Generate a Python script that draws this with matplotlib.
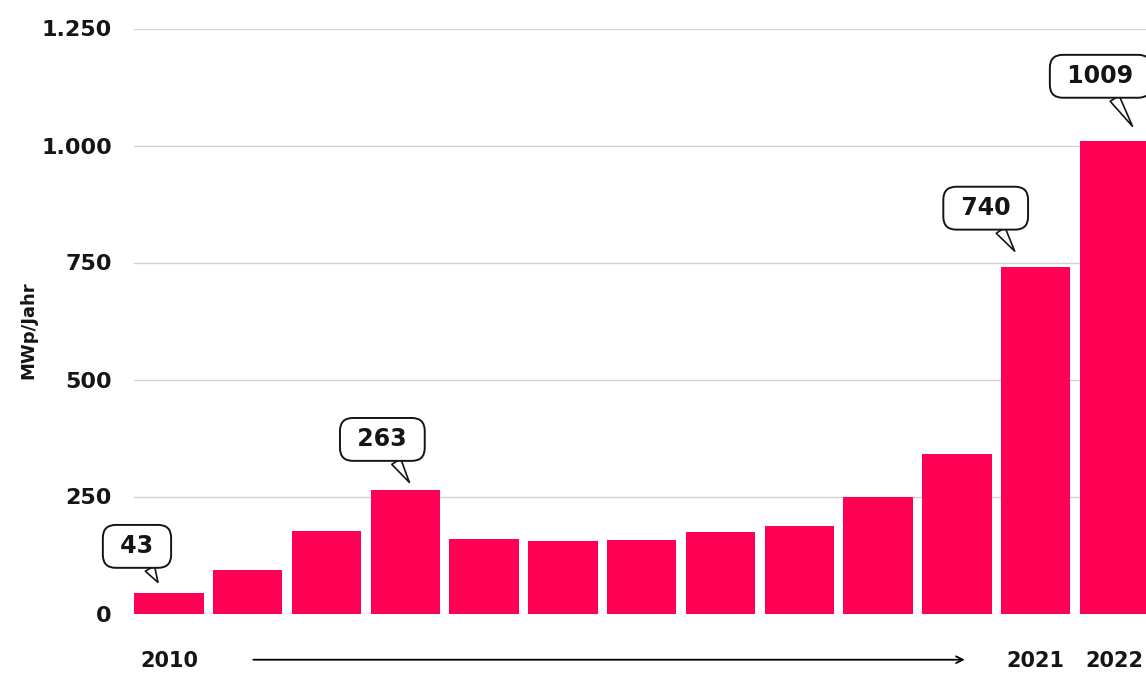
import matplotlib
matplotlib.use("Agg")
import matplotlib.pyplot as plt
import matplotlib.transforms as mtransforms

# yearly PV additions, MWp
years = list(range(2010, 2023))
mwp = [43, 93, 177, 263, 159, 154, 157, 174, 188, 249, 341, 740, 1009]

y_ticks = [0, 250, 500, 750, 1000, 1250]
y_tick_labels = ["0", "250", "500", "750", "1.000", "1.250"]

x_label_years = [2010, 2021, 2022]

# bubbles: year -> (tip offset from bar top, box offset from tip), in pixels
bubbles = {
    2010: ((-11, 11), (-21, 36)),
    2013: ((4, 8), (-27, 43)),
    2021: ((-21, 16), (-29, 43)),
    2022: ((18, 15), (-32, 50)),
}

BAR_COLOR = "#FF0055"
TEXT_COLOR = "#151515"

plt.rcParams["font.family"] = ["DejaVu Sans"]

fig = plt.figure(figsize=(11.46, 6.74), dpi=100)
ax = fig.add_axes([134 / 1146, 1 - 613.5 / 674, 1 - 134 / 1146, 585 / 674])

xs = list(range(len(years)))
ax.bar(xs, mwp, width=0.88, color=BAR_COLOR, zorder=3)

ax.set_ylim(0, 1250)
ax.set_xlim(-0.444, 12.40)
ax.set_yticks(y_ticks)
ax.set_yticklabels(y_tick_labels, fontsize=16, fontweight="bold", color=TEXT_COLOR)
ax.tick_params(axis="y", length=0, pad=16)
ax.grid(axis="y", color="#d2d2d2", linewidth=1, zorder=0)
for s in ax.spines.values():
    s.set_visible(False)

ax.set_xticks([years.index(y) for y in x_label_years])
ax.set_xticklabels([str(y) for y in x_label_years], fontsize=15,
                   fontweight="bold", color=TEXT_COLOR)
ax.tick_params(axis="x", length=0, pad=27)

# arrow between first and later years
trans = mtransforms.blended_transform_factory(ax.transData, ax.transAxes)
ax.annotate("", xy=(10.1, -0.079), xytext=(1.07, -0.079),
            xycoords=trans, textcoords=trans, annotation_clip=False,
            arrowprops=dict(arrowstyle="->", color="black", lw=1.3,
                            mutation_scale=12, shrinkA=0, shrinkB=0))

fig.text(28 / 1146, 1 - 330 / 674, "MWp/Jahr", rotation=90, ha="center",
         va="center", fontsize=13, fontweight="semibold", color=TEXT_COLOR)

for year, (tip, box) in bubbles.items():
    i = years.index(year)
    v = mwp[i]
    tip_tr = mtransforms.offset_copy(ax.transData, fig=fig, x=tip[0], y=tip[1], units="dots")
    ax.annotate(f" {v} ", xy=(i, v), xycoords=tip_tr,
                xytext=box, textcoords="offset pixels",
                ha="center", va="center", fontsize=17, fontweight="bold",
                color=TEXT_COLOR, annotation_clip=False, zorder=5,
                bbox=dict(boxstyle="round,pad=0.4,rounding_size=0.55",
                          fc="white", ec=TEXT_COLOR, lw=1.4),
                arrowprops=dict(arrowstyle="wedge,tail_width=0.45,shrink_factor=0.5",
                                fc="white", ec=TEXT_COLOR, lw=1.2,
                                shrinkA=0, shrinkB=0))

fig.savefig("out.png", dpi=100)
